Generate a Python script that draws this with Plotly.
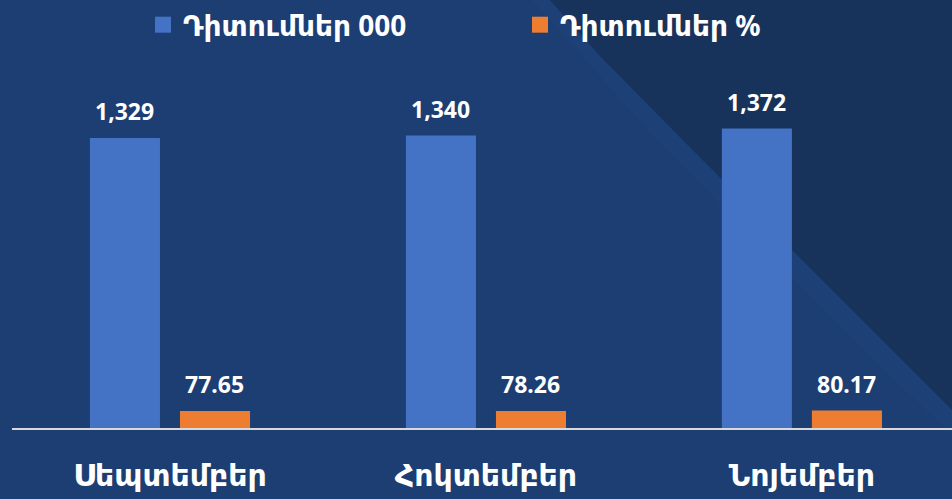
import plotly.graph_objects as go

categories = ["Սեպտեմբեր", "Հոկտեմբեր", "Նոյեմբեր"]
series_names = ["Դիտումներ 000", "Դիտումներ %"]
views_000 = [1329, 1340, 1372]
views_pct = [77.65, 78.26, 80.17]
labels_000 = ["1,329", "1,340", "1,372"]
labels_pct = ["77.65", "78.26", "80.17"]

W, H = 952, 499
L, R, T, B = 12, 0, 0, 71
pw, ph = W - L - R, H - T - B

def px(x):
    return (x - L) / pw

def py(y):
    return 1 - (y - T) / ph

FONT = "Noto Sans, DejaVu Sans, sans-serif"
BLUE = "#4472C4"
ORANGE = "#ED7D31"

fig = go.Figure()
fig.add_bar(x=categories, y=views_000, name=series_names[0], marker_color=BLUE,
            marker_line_width=0, showlegend=False, legendgroup="a")
fig.add_bar(x=categories, y=views_pct, name=series_names[1], marker_color=ORANGE,
            marker_line_width=0, showlegend=False, legendgroup="b")
# legend-only entries with larger square swatches
fig.add_scatter(x=[None], y=[None], mode="markers", name=series_names[0], legendgroup="a",
                marker=dict(symbol="square", size=17, color=BLUE))
fig.add_scatter(x=[None], y=[None], mode="markers", name=series_names[1], legendgroup="b",
                marker=dict(symbol="square", size=17, color=ORANGE))

annotations = []
for c, v, t in zip(categories, views_000, labels_000):
    annotations.append(dict(x=c, y=v, text=t, xshift=-45, yshift=9, yanchor="bottom",
                            showarrow=False, font=dict(family=FONT, size=23, color="white", weight="bold")))
for c, v, t in zip(categories, views_pct, labels_pct):
    annotations.append(dict(x=c, y=v, text=t, xshift=45, yshift=9, yanchor="bottom",
                            showarrow=False, font=dict(family=FONT, size=23, color="white", weight="bold")))

# background diagonal darker region
edge = [(550, 0), (600, 56), (667, 124), (793, 251), (900, 358), (952, 410)]
pts = edge + [(960, 410), (960, -5), (550, -5)]
path = "M " + " L ".join(f"{px(x):.4f},{py(y):.4f}" for x, y in pts) + " Z"
band = [(532, 0)] + edge + [(952, 435), (880, 366), (775, 260), (650, 133), (588, 63)]
path_band = "M " + " L ".join(f"{px(x):.4f},{py(y):.4f}" for x, y in band) + " Z"

shapes = [
    dict(type="path", path=path_band, xref="paper", yref="paper", fillcolor="rgba(45,90,150,0.09)",
         line_width=0, layer="below"),
    dict(type="path", path=path, xref="paper", yref="paper", fillcolor="#17335C",
         line_width=0, layer="below"),
]

fig.update_layout(
    width=W, height=H,
    margin=dict(l=L, r=R, t=T, b=B),
    paper_bgcolor="#1C3E73",
    plot_bgcolor="rgba(0,0,0,0)",
    barmode="group",
    bargap=0.43,
    bargroupgap=0.222,
    showlegend=True,
    legend=dict(orientation="h", x=px(143), xanchor="left", y=py(25), yanchor="middle",
                font=dict(family=FONT, size=28, color="white", weight="bold"),
                bgcolor="rgba(0,0,0,0)", itemsizing="trace", tracegroupgap=0,
                entrywidth=332, entrywidthmode="pixels", itemwidth=30),
    xaxis=dict(range=[-0.5, 2.475], showline=True, linecolor="#D9D9D9", linewidth=2,
               ticks="", ticklabelstandoff=20,
               tickfont=dict(family=FONT, size=30, color="white", weight="bold"),
               showgrid=False, zeroline=False, fixedrange=True),
    yaxis=dict(range=[0, 1961], visible=False, showgrid=False, zeroline=False, fixedrange=True),
    annotations=annotations,
    shapes=shapes,
)

fig.write_html("out.html", config={"displayModeBar": False},
               post_script="document.body.style.margin='0';document.body.style.padding='0';document.body.style.overflow='hidden';")
